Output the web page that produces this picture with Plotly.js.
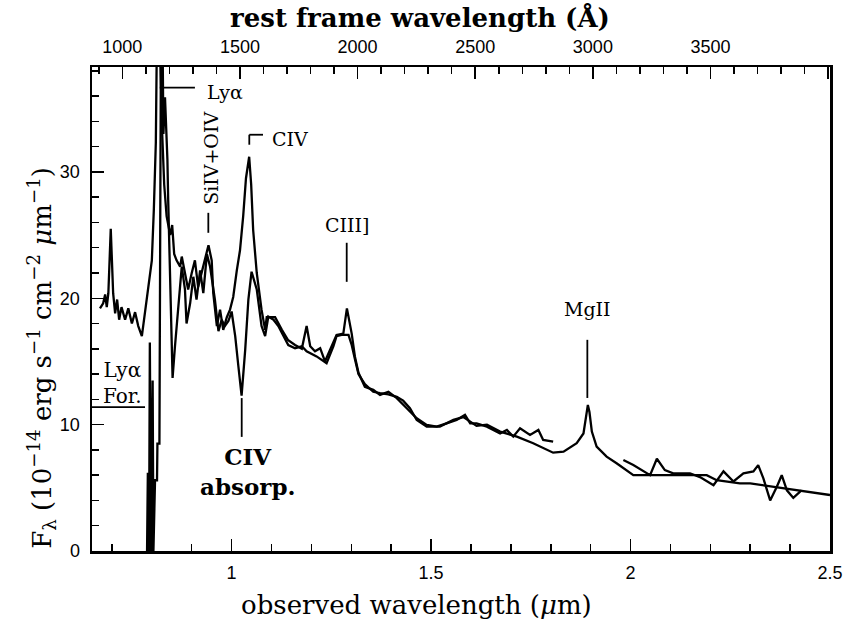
<!DOCTYPE html>
<html><head><meta charset="utf-8">
<script src="https://cdn.plot.ly/plotly-3.0.1.min.js"></script>
<style>html,body{margin:0;padding:0;background:#fff}#chart{width:844px;height:621px}</style>
</head><body><div id="chart"></div>
<script>
// Spectrum A (optical + J/H, then K band after the atmospheric gap)
const wlA = [0.670,0.678,0.683,0.687,0.691,0.697,0.703,0.708,0.713,0.718,0.724,0.733,0.741,0.750,0.758,0.766,0.775,0.783,0.791,0.800,0.805,0.810,0.812,0.815,0.819,0.823,0.826,0.831,0.837,0.846,0.851,0.856,0.862,0.871,0.875,0.883,0.891,0.900,0.908,0.916,0.925,0.933,0.942,0.950,0.954,0.963,0.971,0.979,0.988,0.996,1.004,1.013,1.021,1.029,1.036,1.044,1.049,1.054,1.063,1.075,1.084,1.088,1.109,1.126,1.141,1.159,1.176,1.188,1.197,1.209,1.222,1.234,1.251,1.263,1.280,1.289,1.301,1.309,1.318,1.334,1.355,1.372,1.393,1.414,1.439,1.464,1.489,1.514,1.539,1.564,1.585,1.598,1.614,1.640,1.673,1.690,1.706,1.723,1.748,1.769,1.781,1.806,1.900,1.982,2.007,2.049,2.066,2.086,2.107,2.149,2.174,2.208,2.233,2.258,2.283,2.308,2.320,2.333,2.350,2.367,2.379,2.392,2.408,2.425,2.429];
const fluxA = [19.2,19.6,20.3,19.3,20.4,25.5,20.4,18.8,19.9,18.3,19.3,18.3,19.2,18.0,18.9,17.8,17.0,18.8,20.9,23.0,27.0,32.3,38.5,42,42,36,33,29,26.5,25.0,25.8,23.5,23.0,22.5,23.3,22.0,20.7,22.0,23.0,20.9,22.0,23.0,24.2,23.0,20.4,17.8,19.1,17.5,18.5,19.1,20.1,22.2,23.8,26.5,29.5,31.2,29.0,25.4,22.0,19.1,17.5,18.5,18.5,17.5,16.7,16.3,16.0,17.8,16.2,15.8,16.05,15.0,16.3,17.1,17.2,19.2,17.2,15.4,14.1,13.0,12.75,12.35,12.6,12.1,11.3,10.5,9.98,9.84,10.1,10.37,10.77,10.1,10.1,9.84,9.3,9.58,9.05,9.71,9.18,9.58,8.79,8.65,null,7.2,6.8,6.0,7.3,6.4,6.15,6.15,5.85,5.2,6.3,5.5,6.15,6.3,6.8,5.75,4.0,5.1,6.0,4.8,4.2,4.7,4.8];
// Spectrum B (with Ly-alpha forest and CIV absorption, to 2.5 micron)
const wlB = [0.788,0.790,0.793,0.795,0.798,0.802,0.804,0.808,0.813,0.814,0.819,0.820,0.823,0.827,0.829,0.833,0.839,0.841,0.846,0.850,0.852,0.858,0.866,0.875,0.883,0.887,0.896,0.904,0.912,0.921,0.929,0.938,0.946,0.958,0.967,0.975,0.983,0.992,1.000,1.009,1.017,1.025,1.034,1.042,1.050,1.063,1.075,1.084,1.092,1.105,1.117,1.130,1.142,1.159,1.176,1.188,1.213,1.238,1.255,1.263,1.276,1.293,1.301,1.309,1.318,1.334,1.355,1.372,1.393,1.414,1.430,1.447,1.464,1.489,1.522,1.556,1.581,1.614,1.640,1.673,1.715,1.756,1.790,1.806,1.832,1.865,1.882,1.887,1.893,1.897,1.903,1.915,1.940,1.965,1.990,2.007,2.049,2.132,2.191,2.216,2.274,2.300,2.358,2.383,2.425,2.500];
const fluxB = [0,6.2,0,16.5,0,13.5,0,5.6,5.6,8.5,8.5,24,42,40,33,35.9,31,27.8,20.4,16.2,13.7,16.2,19.1,22.5,20.7,18.0,19.6,21.7,19.9,22.2,20.4,23.5,22.5,19.9,17.4,18.3,17.8,18.2,18.95,17.0,14.6,12.3,15.9,19.9,22.1,20.7,17.8,17.0,18.55,18.3,17.8,17.0,16.3,16.05,16.2,15.8,15.4,14.86,16.2,17.0,17.1,17.1,16.3,15.2,14.0,13.2,12.6,12.5,12.4,12.2,11.9,11.3,10.37,9.84,9.84,10.37,10.6,9.9,10.0,9.45,9.05,8.53,8.0,7.78,7.86,8.53,9.3,10.5,11.56,11.0,9.45,8.26,7.47,6.94,6.41,6.0,6.0,6.0,6.0,5.6,5.35,5.35,5.1,4.96,4.8,4.43];

const obsRange = [0.65, 2.5];
const restRange = [871, 4008];
const fluxRange = [0, 38.3];

const lineStyle = {color: '#000', width: 2.3};
const traces = [
  {x: wlA, y: fluxA, type: 'scatter', mode: 'lines', line: lineStyle, connectgaps: false, hoverinfo: 'skip', showlegend: false},
  {x: wlB, y: fluxB, type: 'scatter', mode: 'lines', line: lineStyle, hoverinfo: 'skip', showlegend: false},
  // invisible helper so that the rest-frame (top) axis is drawn
  {x: restRange, y: fluxRange, xaxis: 'x2', yaxis: 'y', type: 'scatter', mode: 'markers',
    marker: {opacity: 0, size: 1}, hoverinfo: 'skip', showlegend: false}
];

const tickFont = {family: 'Liberation Sans, Arial, sans-serif', size: 18, color: '#000'};
const serif = 'DejaVu Serif, serif';
function seg(x0, y0, x1, y1) {
  return {type: 'line', xref: 'x', yref: 'y', x0: x0, y0: y0, x1: x1, y1: y1, line: {color: '#000', width: 1.8}};
}
function lab(text, x, y, size, extra) {
  return Object.assign({text: text, x: x, y: y, xref: 'x', yref: 'y', showarrow: false,
    xanchor: 'center', yanchor: 'middle',
    font: {family: serif, size: size, color: '#000'}}, extra || {});
}
const axisCommon = {
  ticks: 'inside', ticklen: 12, tickwidth: 1.5, tickcolor: '#000',
  showline: true, linewidth: 2.5, linecolor: '#000', showgrid: false, zeroline: false,
  tickfont: tickFont
};

const layout = {
  width: 844, height: 621,
  margin: {l: 92, r: 14, t: 67, b: 70},
  paper_bgcolor: '#fff', plot_bgcolor: '#fff',
  xaxis: Object.assign({}, axisCommon, {range: obsRange, tickmode: 'linear', tick0: 0, dtick: 0.5,
    minor: {tickmode: 'linear', tick0: 0, dtick: 0.1, ticks: 'inside', ticklen: 7, tickwidth: 1.5, tickcolor: '#000'},
    ticklabelstandoff: 4}),
  xaxis2: Object.assign({}, axisCommon, {range: restRange, overlaying: 'x', side: 'top', anchor: 'y',
    tickmode: 'linear', tick0: 0, dtick: 500,
    minor: {tickmode: 'linear', tick0: 0, dtick: 100, ticks: 'inside', ticklen: 7, tickwidth: 1.5, tickcolor: '#000'},
    ticklabelstandoff: 4}),
  yaxis: Object.assign({}, axisCommon, {range: fluxRange, tickmode: 'linear', tick0: 0, dtick: 10, mirror: true,
    minor: {tickmode: 'linear', tick0: 0, dtick: 2, ticks: 'inside', ticklen: 7, tickwidth: 1.5, tickcolor: '#000'},
    ticklabelstandoff: 6}),
  shapes: [
    seg(0.820, 36.66, 0.908, 36.66),
    seg(0.9416, 26.76, 0.9416, 25.18),
    seg(1.0443, 32.15, 1.0443, 32.94), seg(1.0443, 32.94, 1.0787, 32.94),
    seg(1.2885, 24.39, 1.2885, 21.3),
    seg(1.8917, 16.71, 1.8917, 12.11),
    seg(1.0253, 12.1, 1.0253, 9.03),
    seg(0.65, 11.38, 0.7829, 11.38)
  ],
  annotations: [
    lab('Lyα', 0.983, 36.3, 19),
    lab('SiIV+OIV', 0.948, 31.1, 19, {textangle: -90}),
    lab('CIV', 1.146, 32.58, 19),
    lab('CIII]', 1.2885, 25.8, 19),
    lab('MgII', 1.8917, 19.16, 19),
    lab('<b>CIV<br>absorp.</b>', 1.041, 6.33, 23),
    lab('Lyα<br>For.', 0.7265, 13.3, 20),
    {text: '<b>rest frame wavelength (Å)</b>', xref: 'paper', yref: 'paper', x: 0.444, y: 1.101,
      xanchor: 'center', yanchor: 'middle', showarrow: false, font: {family: serif, size: 26, color: '#000'}},
    {text: 'observed wavelength (<i>μ</i>m)', xref: 'paper', yref: 'paper', x: 0.44, y: -0.1116,
      xanchor: 'center', yanchor: 'middle', showarrow: false, font: {family: serif, size: 26, color: '#000'}},
    {text: 'F<sub>λ</sub> (10<sup>−14</sup> erg s<sup>−1</sup> cm<sup>−2</sup> <i>μ</i>m<sup>−1</sup>)', xref: 'paper', yref: 'paper',
      x: -0.0678, y: 0.399, xanchor: 'center', yanchor: 'middle', textangle: -90, showarrow: false,
      font: {family: serif, size: 26, color: '#000'}}
  ]
};

Plotly.newPlot('chart', traces, layout, {displayModeBar: false, staticPlot: true});
</script>
</body></html>
